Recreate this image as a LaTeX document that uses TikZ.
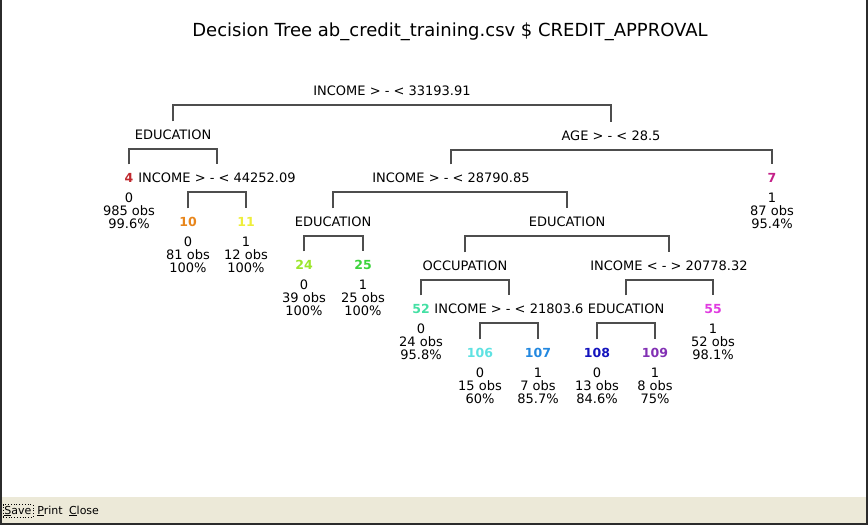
\documentclass[tikz,border=0pt]{standalone}
\usepackage{fontspec}
\setmainfont{DejaVu Sans}
\definecolor{linegray}{HTML}{4D4D4D}
\definecolor{barcol}{HTML}{ECE9D8}
\definecolor{bordercol}{HTML}{2B2B2B}
\definecolor{c4}{HTML}{C0282D}
\definecolor{c10}{HTML}{E8861C}
\definecolor{c11}{HTML}{EEEE3A}
\definecolor{c24}{HTML}{9CE62C}
\definecolor{c25}{HTML}{3CD43C}
\definecolor{c7}{HTML}{C42088}
\definecolor{c52}{HTML}{44E0A4}
\definecolor{c55}{HTML}{E03CE0}
\definecolor{c106}{HTML}{5EE2E2}
\definecolor{c107}{HTML}{2288E0}
\definecolor{c108}{HTML}{1414BE}
\definecolor{c109}{HTML}{8230B4}
\newcommand\mybr[3]{\draw[br] ([yshift=9pt]#2.north) |- ([yshift=-9pt]#1.south) -| ([yshift=9pt]#3.north);}
\newcommand\leafinfo[4]{\path (#1) ++(0,20) node[info] (#1a) {#2} ++(0,13) node[info] (#1b) {#3} ++(0,12.5) node[info] (#1c) {#4};}
\begin{document}
\begin{tikzpicture}[x=1pt,y=-1pt,
  lbl/.style={inner sep=0pt, text height=9pt, text depth=0pt, font=\fontsize{13}{13}\selectfont},
  leafid/.style={inner sep=0pt, text height=9pt, text depth=0pt, font=\fontsize{12.5}{13}\selectfont\bfseries},
  info/.style={inner sep=0pt, text height=9pt, text depth=0pt, font=\fontsize{13}{13}\selectfont},
  br/.style={draw=linegray, line width=1.6pt},
  btn/.style={inner sep=1.5pt, font=\fontsize{11}{11}\selectfont, text height=8pt, text depth=2pt}
]
\useasboundingbox (0,0) rectangle (868,525);
\fill[white] (0,0) rectangle (868,525);
\fill[barcol] (0,497) rectangle (868,525);
\fill[bordercol] (0,0) rectangle (2,525);
\fill[bordercol] (866,0) rectangle (868,525);
\fill[bordercol] (0,523) rectangle (868,525);

\node[inner sep=0pt, text height=13pt, text depth=0pt, font=\fontsize{18}{18}\selectfont] (title) at (450,30) {Decision Tree ab\_credit\_training.csv \$ CREDIT\_APPROVAL};

% split nodes
\node[lbl] (root) at (392,91) {INCOME > - < 33193.91};
\node[lbl] (edu1) at (173,135) {EDUCATION};
\node[lbl] (age) at (611,136) {AGE > - < 28.5};
\node[lbl] (inc2) at (217,178) {INCOME > - < 44252.09};
\node[lbl] (inc3) at (451,178) {INCOME > - < 28790.85};
\node[lbl] (edu2) at (333,222) {EDUCATION};
\node[lbl] (edu3) at (567,222) {EDUCATION};
\node[lbl] (occ) at (465,266) {OCCUPATION};
\node[lbl] (inc4) at (669,266) {INCOME < - > 20778.32};
\node[lbl] (inc5) at (509,309) {INCOME > - < 21803.6};
\node[lbl] (edu4) at (626,309) {EDUCATION};

% leaves
\node[leafid, text=c4] (n4) at (129,178) {4};
\node[leafid, text=c7] (n7) at (772,178) {7};
\node[leafid, text=c10] (n10) at (188,222) {10};
\node[leafid, text=c11] (n11) at (246,222) {11};
\node[leafid, text=c24] (n24) at (304,265) {24};
\node[leafid, text=c25] (n25) at (363,265) {25};
\node[leafid, text=c52] (n52) at (421,309) {52};
\node[leafid, text=c55] (n55) at (713,309) {55};
\node[leafid, text=c106] (n106) at (480,353) {106};
\node[leafid, text=c107] (n107) at (538,353) {107};
\node[leafid, text=c108] (n108) at (597,353) {108};
\node[leafid, text=c109] (n109) at (655,353) {109};

\leafinfo{n4}{0}{985 obs}{99.6\%}
\leafinfo{n7}{1}{87 obs}{95.4\%}
\leafinfo{n10}{0}{81 obs}{100\%}
\leafinfo{n11}{1}{12 obs}{100\%}
\leafinfo{n24}{0}{39 obs}{100\%}
\leafinfo{n25}{1}{25 obs}{100\%}
\leafinfo{n52}{0}{24 obs}{95.8\%}
\leafinfo{n55}{1}{52 obs}{98.1\%}
\leafinfo{n106}{0}{15 obs}{60\%}
\leafinfo{n107}{1}{7 obs}{85.7\%}
\leafinfo{n108}{0}{13 obs}{84.6\%}
\leafinfo{n109}{1}{8 obs}{75\%}

% brackets
\mybr{root}{edu1}{age}
\mybr{edu1}{n4}{inc2}
\mybr{inc2}{n10}{n11}
\mybr{age}{inc3}{n7}
\mybr{inc3}{edu2}{edu3}
\mybr{edu2}{n24}{n25}
\mybr{edu3}{occ}{inc4}
\mybr{occ}{n52}{inc5}
\mybr{inc5}{n106}{n107}
\mybr{inc4}{edu4}{n55}
\mybr{edu4}{n108}{n109}

% buttons
\node[btn, draw=black, dotted, line width=0.8pt] (save) at (18,511) {\underline{S}ave};
\node[btn] (print) at (50,511) {\underline{P}rint};
\node[btn] (close) at (84,511) {\underline{C}lose};
\end{tikzpicture}
\end{document}
